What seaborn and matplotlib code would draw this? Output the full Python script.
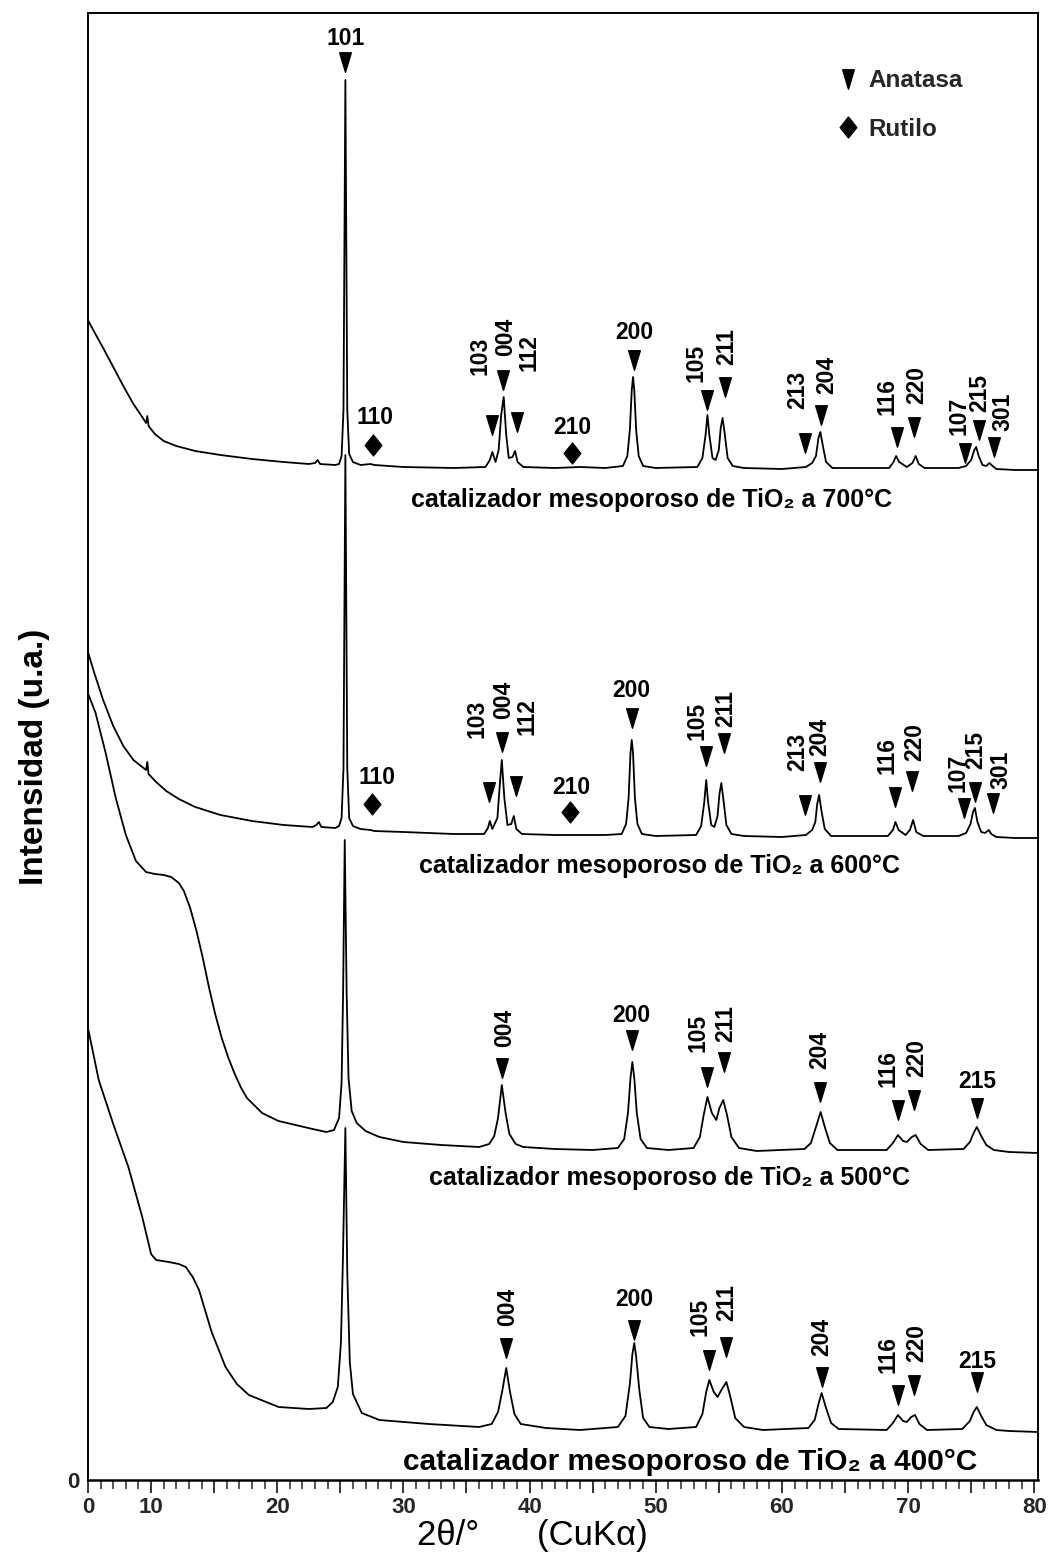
import numpy as np
import pandas as pd
import matplotlib
matplotlib.use("Agg")
import matplotlib.pyplot as plt
import seaborn as sns
from matplotlib.path import Path
from matplotlib.lines import Line2D
from matplotlib.ticker import FixedLocator, MultipleLocator

sns.set_theme(style="ticks")
plt.rcParams['font.family'] = ['Liberation Sans', 'DejaVu Sans']

# --- patterns: (2theta, intensity above the sample's own baseline) ---
pat_700 = [(4.9, 152), (5.5, 138), (6.2, 122), (7.0, 103), (7.8, 84), (8.6, 66), (9.3, 53), (9.6, 47),
           (9.7, 54), (9.8, 44), (10.3, 36), (11.0, 29), (12.0, 24), (13.5, 19), (15.5, 15), (18.0, 11),
           (20.5, 8), (22.5, 6), (23.0, 7), (23.2, 10), (23.4, 6), (24.6, 5), (24.9, 6), (25.1, 14),
           (25.25, 60), (25.4, 390), (25.55, 60), (25.7, 16), (26.0, 8), (26.6, 5), (27.4, 6), (27.7, 5),
           (30, 3), (34, 2), (36.5, 3), (36.85, 10), (37.05, 18), (37.3, 8), (37.55, 20), (37.75, 55),
           (37.95, 73), (38.15, 35), (38.35, 12), (38.65, 13), (38.85, 19), (39.05, 8), (39.5, 3),
           (42, 2), (44, 3), (46, 2), (47.4, 4), (47.75, 14), (47.95, 40), (48.1, 80), (48.2, 93),
           (48.3, 80), (48.45, 40), (48.65, 14), (49.0, 4), (50, 2), (53.3, 3), (53.7, 12), (53.95, 35),
           (54.1, 55), (54.25, 35), (54.5, 12), (54.75, 10), (55.0, 20), (55.15, 42), (55.3, 52),
           (55.45, 38), (55.7, 12), (56.1, 4), (57, 2), (60, 1), (61.9, 3), (62.4, 7), (62.7, 14),
           (62.9, 32), (63.05, 38), (63.25, 24), (63.5, 8), (64.0, 2), (68.5, 2), (68.85, 8), (69.05, 14),
           (69.3, 8), (69.9, 3), (70.35, 7), (70.6, 14), (70.85, 6), (71.3, 2), (74.0, 2), (74.6, 4),
           (75.0, 10), (75.25, 20), (75.4, 23), (75.6, 14), (75.9, 5), (76.2, 4), (76.45, 7), (76.7, 4),
           (77.0, 1), (78.5, 0), (80.3, 0)]

pat_600 = [(4.9, 190), (5.5, 165), (6.2, 138), (7.0, 112), (7.8, 92), (8.6, 78), (9.4, 70), (9.6, 68),
           (9.7, 76), (9.8, 64), (10.4, 56), (11.2, 47), (12.2, 39), (13.5, 31), (15.5, 23), (18.0, 17),
           (20.5, 13), (22.8, 11), (23.1, 13), (23.3, 16), (23.5, 11), (24.6, 10), (24.9, 12), (25.1, 20),
           (25.25, 70), (25.4, 383), (25.55, 70), (25.7, 20), (26.0, 12), (26.6, 9), (27.4, 8), (27.7, 7),
           (30, 6), (34, 4), (36.4, 4), (36.7, 10), (36.85, 17), (37.05, 9), (37.45, 20), (37.65, 55),
           (37.8, 78), (38.0, 40), (38.25, 13), (38.55, 14), (38.75, 22), (38.95, 9), (39.4, 4), (42, 3),
           (44, 3), (46, 3), (47.3, 4), (47.65, 14), (47.85, 40), (48.0, 85), (48.1, 98), (48.2, 85),
           (48.35, 40), (48.55, 14), (48.9, 4), (50, 2), (53.2, 3), (53.6, 12), (53.85, 36), (54.0, 58),
           (54.15, 36), (54.4, 13), (54.65, 11), (54.9, 22), (55.05, 44), (55.2, 55), (55.35, 40),
           (55.6, 13), (56.0, 4), (57, 2), (60, 1), (61.9, 3), (62.4, 8), (62.65, 16), (62.8, 34),
           (62.95, 43), (63.15, 26), (63.4, 9), (63.9, 2), (68.4, 2), (68.8, 8), (69.0, 16), (69.25, 8),
           (69.8, 3), (70.15, 8), (70.4, 18), (70.65, 6), (71.2, 2), (74.0, 2), (74.6, 5), (74.95, 14),
           (75.15, 26), (75.3, 30), (75.5, 16), (75.8, 6), (76.1, 5), (76.4, 8), (76.6, 4), (77.0, 1),
           (78.5, 0), (80.3, 0)]

pat_500 = [(4.9, 463), (5.6, 440), (6.4, 400), (7.2, 355), (8.0, 318), (8.8, 292), (9.6, 281),
           (10.3, 279), (11.0, 278), (11.6, 276), (12.2, 270), (12.6, 262), (13.1, 245), (13.6, 222),
           (14.1, 195), (14.6, 165), (15.1, 138), (15.6, 115), (16.1, 96), (16.6, 80), (17.1, 66),
           (17.6, 55), (18.8, 40), (20.1, 32), (22.8, 24), (23.9, 21), (24.5, 23), (24.9, 35),
           (25.1, 70), (25.22, 160), (25.35, 313), (25.5, 160), (25.65, 75), (25.9, 42),
           (26.3, 30), (27.0, 22), (28.1, 16), (30, 11), (33, 8), (36, 6), (36.8, 9), (37.2, 17),
           (37.5, 35), (37.8, 68), (38.1, 40), (38.4, 19), (38.9, 9), (39.5, 6), (42, 4), (45, 3),
           (47.0, 5), (47.5, 14), (47.8, 40), (48.0, 75), (48.15, 91), (48.3, 75), (48.5, 40), (48.8, 14),
           (49.3, 5), (51, 3), (53.0, 5), (53.5, 16), (53.8, 38), (54.1, 56), (54.45, 40), (54.8, 33),
           (55.05, 45), (55.35, 53), (55.65, 38), (56.0, 16), (56.6, 5), (58, 2), (61.8, 4), (62.3, 10),
           (62.7, 26), (63.07, 41), (63.4, 26), (63.8, 10), (64.4, 3), (68.3, 3), (68.8, 10), (69.2, 18),
           (69.6, 12), (69.9, 11), (70.3, 16), (70.6, 18), (71.0, 9), (71.6, 3), (74.4, 4), (74.9, 11),
           (75.2, 20), (75.45, 26), (75.8, 17), (76.2, 8), (76.8, 3), (78, 1), (80.3, 0)]

pat_400 = [(4.9, 410), (5.85, 352), (7.0, 308), (8.2, 265), (9.3, 215), (10.0, 178), (10.4, 172),
           (11.4, 170), (12.2, 168), (12.75, 165), (13.3, 155), (13.8, 142), (14.8, 100), (15.9, 65),
           (16.8, 48), (17.75, 37), (20.1, 25), (22.5, 23), (23.9, 24), (24.4, 30), (24.8, 45),
           (25.05, 90), (25.2, 170), (25.4, 304), (25.55, 160), (25.75, 70), (26.0, 38), (26.7, 19),
           (28.1, 12), (32, 8), (36, 5), (37.0, 8), (37.5, 20), (37.85, 42), (38.15, 64), (38.45, 40),
           (38.8, 18), (39.3, 8), (41.3, 4), (44, 2), (47.0, 5), (47.6, 16), (47.95, 48), (48.15, 78),
           (48.3, 89), (48.45, 75), (48.7, 42), (49.0, 14), (49.5, 5), (51, 3), (53.2, 5), (53.7, 18),
           (54.0, 40), (54.25, 52), (54.6, 40), (54.9, 35), (55.2, 42), (55.6, 50), (55.9, 36),
           (56.3, 14), (57.0, 5), (58.5, 2), (62.1, 4), (62.6, 12), (62.9, 28), (63.15, 39), (63.45, 26),
           (63.9, 9), (64.5, 3), (68.3, 2), (68.8, 9), (69.2, 17), (69.6, 11), (69.9, 10), (70.25, 15),
           (70.55, 17), (70.9, 8), (71.5, 2), (74.3, 3), (74.9, 11), (75.2, 20), (75.45, 25), (75.8, 16),
           (76.2, 7), (77, 2), (78, 1), (80.3, 0)]

samples = ["700", "600", "500", "400"]
offsets = {"700": 1010, "600": 642, "500": 327, "400": 48}

# peak marks: (hkl, 2theta, mark height, phase, label dx pt, label dy pt, rotation)
marks = {
    "700": [("101", 25.4, 1418, "A", 0, 17, 0), ("110", 27.6, 1035, "R", 1.5, 20, 0),
            ("103", 37.0, 1055, "A", -8.6, 50, 90), ("004", 37.9, 1100, "A", 2, 31, 90),
            ("112", 39.0, 1058, "A", 8.6, 50, 90), ("210", 43.4, 1027, "R", 0, 18, 0),
            ("200", 48.3, 1120, "A", 0, 19.5, 0), ("105", 54.1, 1080, "A", -8, 27, 90),
            ("211", 55.5, 1093, "A", 1.5, 29, 90), ("213", 61.8, 1037, "A", -5, 38, 90),
            ("204", 63.1, 1065, "A", 4, 29, 90), ("116", 69.1, 1043, "A", -7, 29, 90),
            ("220", 70.5, 1053, "A", 1.5, 30, 90), ("107", 74.5, 1027, "A", -4, 27, 90),
            ("215", 75.6, 1050, "A", 0.7, 27, 90), ("301", 76.8, 1033, "A", 6.5, 25, 90)],
    "600": [("110", 27.5, 676, "R", 3.6, 19, 0), ("103", 36.8, 688, "A", -8.6, 53, 90),
            ("004", 37.8, 738, "A", 1.5, 30, 90), ("112", 38.9, 694, "A", 8, 50, 90),
            ("210", 43.2, 668, "R", 0.7, 18, 0), ("200", 48.1, 762, "A", 0, 20, 0),
            ("105", 54.0, 724, "A", -6.5, 25, 90), ("211", 55.4, 737, "A", 1.5, 25, 90),
            ("213", 61.8, 675, "A", -5, 38, 90), ("204", 63.0, 708, "A", 0, 25, 90),
            ("116", 69.0, 683, "A", -6, 30, 90), ("220", 70.3, 699, "A", 2, 28, 90),
            ("107", 74.4, 672, "A", -4, 25, 90), ("215", 75.3, 688, "A", 0.7, 30, 90),
            ("301", 76.7, 677, "A", 6, 24, 90)],
    "500": [("004", 37.8, 412, "A", 2, 29, 90), ("200", 48.1, 440, "A", 0, 18, 0),
            ("105", 54.1, 403, "A", -7, 32, 90), ("211", 55.4, 418, "A", 1.5, 28, 90),
            ("204", 63.0, 388, "A", 0, 30, 90), ("116", 69.2, 370, "A", -7, 30, 90),
            ("220", 70.5, 380, "A", 1.5, 30, 90), ("215", 75.45, 372, "A", 0, 19, 0)],
    "400": [("004", 38.15, 132, "A", 0.7, 29.5, 90), ("200", 48.3, 150, "A", 0, 21.6, 0),
            ("105", 54.25, 120, "A", -7, 31, 90), ("211", 55.6, 133, "A", 0, 32, 90),
            ("204", 63.15, 103, "A", 0, 29, 90), ("116", 69.2, 85, "A", -7, 29, 90),
            ("220", 70.5, 95, "A", 1.5, 30, 90), ("215", 75.45, 98, "A", 0, 14.4, 0)],
}
captions = {"700": (49.7, 980), "600": (50.3, 614), "500": (51.1, 302), "400": (52.7, 18)}

xtick_pos = list(range(5, 81, 5))
xtick_lab = ["0", "10", "", "20", "", "30", "", "40", "", "50", "", "60", "", "70", "", "80"]

# --- build long table ---
frames = []
for s, pat in [("700", pat_700), ("600", pat_600), ("500", pat_500), ("400", pat_400)]:
    d = pd.DataFrame(pat, columns=["two_theta", "intensity"])
    d["intensity"] = d["intensity"] + offsets[s]
    d["sample"] = s
    frames.append(d)
df = pd.concat(frames, ignore_index=True)

tri = Path([(-0.3, 0.5), (0.3, 0.5), (0, -0.5), (-0.3, 0.5)],
           [Path.MOVETO, Path.LINETO, Path.LINETO, Path.CLOSEPOLY])
dia = Path([(0, 0.5), (0.4, 0), (0, -0.5), (-0.4, 0), (0, 0.5)],
           [Path.MOVETO, Path.LINETO, Path.LINETO, Path.LINETO, Path.CLOSEPOLY])
mk = {"A": (tri, 14), "R": (dia, 15)}

fig = plt.figure(figsize=(10.5, 15.62), dpi=100)
ax = fig.add_axes([88 / 1050, 82 / 1562, 950 / 1050, 1467 / 1562])

sns.lineplot(data=df, x="two_theta", y="intensity", hue="sample", units="sample",
             estimator=None, sort=False, palette=["black"] * 4, linewidth=1.3,
             legend=False, ax=ax)

for s in samples:
    for hkl, x, y, ph, dx, dy, rot in marks[s]:
        m, ms = mk[ph]
        ax.plot([x], [y], marker=m, markersize=ms, color="black", linestyle="none")
        ax.annotate(hkl, (x, y), xytext=(dx, dy), textcoords="offset points",
                    ha="center", va="center", rotation=rot, fontsize=16.5,
                    fontweight="bold", color="black")
    cx, cy = captions[s]
    ax.text(cx, cy, "catalizador mesoporoso de TiO\u2082 a %s\u00b0C" % s, ha="center",
            va="center", fontsize=18 if s != "400" else 21.5, fontweight="bold", color="black")

handles = [Line2D([], [], marker=tri, markersize=14, color="black", linestyle="none"),
           Line2D([], [], marker=dia, markersize=15, color="black", linestyle="none")]
ax.legend(handles, ["Anatasa", "Rutilo"], loc="upper left", bbox_to_anchor=(0.774, 0.970),
          frameon=False, handlelength=1.0, handletextpad=0.35, labelspacing=1.05,
          borderpad=0, prop={"weight": "bold", "size": 17.5})

ax.set_xlim(5, 80.3)
ax.set_ylim(0, 1467)
ax.xaxis.set_major_locator(FixedLocator(xtick_pos))
ax.set_xticklabels(xtick_lab)
ax.xaxis.set_minor_locator(MultipleLocator(1))
ax.tick_params(axis="x", which="major", direction="out", length=9.5, width=1.3,
               labelsize=16, pad=3)
ax.tick_params(axis="x", which="minor", direction="out", length=6.5, width=1.1)
for lab in ax.get_xticklabels():
    lab.set_fontweight("bold")
ax.set_yticks([0])
ax.set_yticklabels(["0"])
ax.tick_params(axis="y", length=0, labelsize=16, pad=6)
for lab in ax.get_yticklabels():
    lab.set_fontweight("bold")

for side in ["left", "right", "top", "bottom"]:
    ax.spines[side].set_color("black")
    ax.spines[side].set_linewidth(1.4)
ax.spines["bottom"].set_linewidth(1.8)

ax.set_ylabel("Intensidad (u.a.)", fontsize=24, fontweight="bold", color="black", va="center")
ax.yaxis.set_label_coords(-(88 - 35) / 950, 1 - (757 - 13) / 1467)
ax.set_xlabel("2\u03b8/\u00b0      (CuK\u03b1)", fontsize=25, color="black", va="center")
ax.xaxis.set_label_coords((532 - 88) / 950, -(1535 - 1480) / 1467)

fig.savefig("out.png", dpi=100)
